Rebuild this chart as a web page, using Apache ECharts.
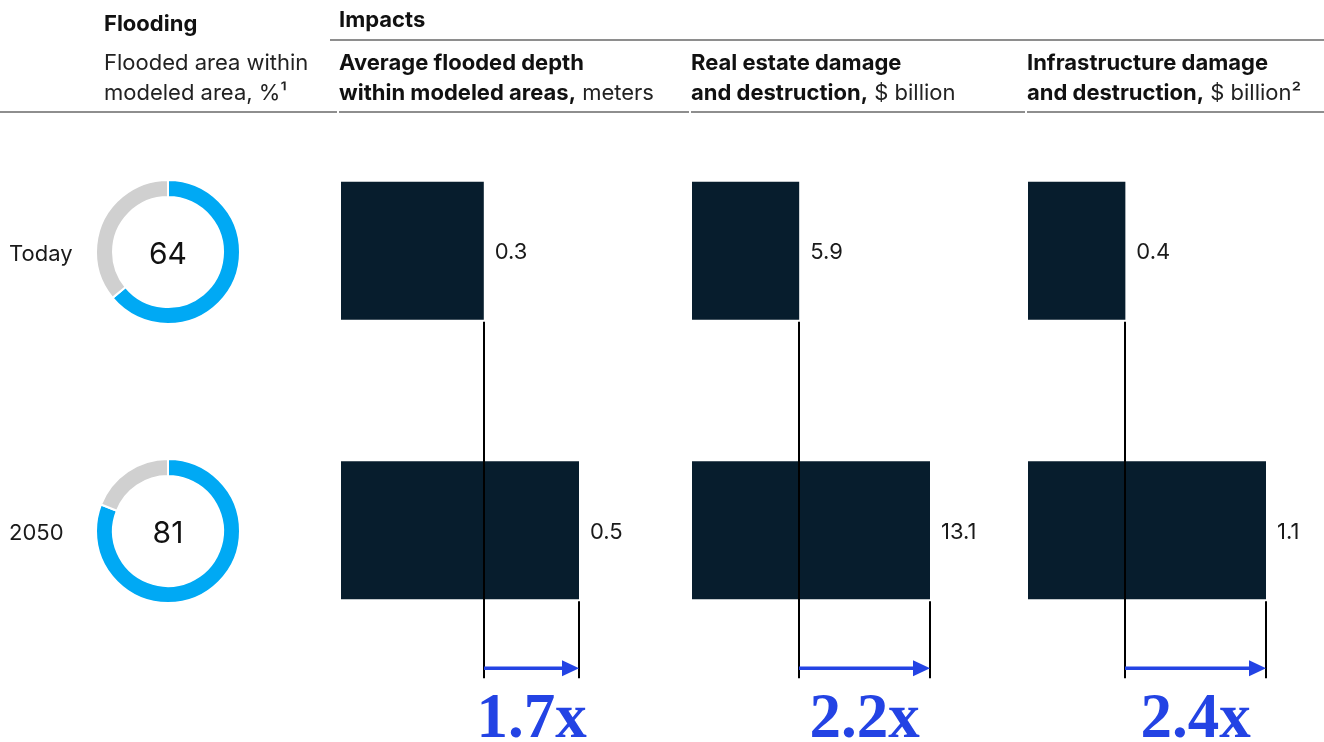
<!DOCTYPE html>
<html><head><meta charset="utf-8">
<script src="https://cdn.jsdelivr.net/npm/echarts@6/dist/echarts.min.js"></script>
<style>html,body{margin:0;padding:0;background:#fff}#c{width:1324px;height:742px}</style>
</head><body><div id="c"></div>
<script>
// ---- data ----
const periods = ['Today', '2050'];
const floodedShare = [64, 81];
const depth = [0.3, 0.5];
const realEstate = [5.9, 13.1];
const infrastructure = [0.45, 1.1];
const depthLabels = ['0.3', '0.5'];
const realEstateLabels = ['5.9', '13.1'];
const infrastructureLabels = ['0.4', '1.1'];
const multipliers = ['1.7x', '2.2x', '2.4x'];

// ---- style ----
const FONT = 'Inter';
const BAR_H = 138;
const NAVY = '#071D2D';
const BLUE = '#00A9F4';
const GREY = '#D0D0D0';
const ARROW = '#2343E4';
const RULE = '#8E8E8E';

const panels = [
  { values: depth, labels: depthLabels, left: 341 },
  { values: realEstate, labels: realEstateLabels, left: 692 },
  { values: infrastructure, labels: infrastructureLabels, left: 1028 }
];

const chart = echarts.init(document.getElementById('c'), null, { renderer: 'canvas' });

const grids = [{ left: 9, width: 10, top: 111, bottom: 72 }];
const xAxes = [{ type: 'value', gridIndex: 0, show: false, min: 0, max: 1 }];
const yAxes = [{
  type: 'category', gridIndex: 0, data: periods, inverse: true,
  axisLine: { show: false }, axisTick: { show: false }, splitLine: { show: false },
  axisLabel: {
    inside: true, margin: 0,
    formatter: (v) => '{a|' + v + '}',
    rich: { a: { fontFamily: FONT, fontSize: 22, color: '#1a1a1a', padding: [7, 0, 0, 0] } }
  }
}];
const series = [];

panels.forEach((p, i) => {
  const gi = i + 1;
  grids.push({ left: p.left, width: 238, top: 111, bottom: 72 });
  xAxes.push({ type: 'value', gridIndex: gi, show: false, min: 0, max: 'dataMax' });
  yAxes.push({ type: 'category', gridIndex: gi, data: periods, inverse: true, show: false });
  series.push({
    type: 'bar', xAxisIndex: gi, yAxisIndex: gi, data: p.values, barWidth: BAR_H,
    itemStyle: { color: NAVY }, silent: true, z: 2,
    label: {
      show: true, position: 'right', distance: 11, offset: [0, 2],
      formatter: (prm) => p.labels[prm.dataIndex],
      fontFamily: FONT, fontSize: 22, color: '#1a1a1a'
    }
  });
  series.push({
    type: 'custom', xAxisIndex: gi, yAxisIndex: gi, clip: false, silent: true, z: 5,
    data: [[p.values[0], p.values[1], 0]],
    encode: { x: [0, 1], y: 2 },
    renderItem: (params, api) => {
      const p0 = api.coord([api.value(0), 0]);
      const p1 = api.coord([api.value(1), 1]);
      const half = BAR_H / 2;
      const x0 = Math.round(p0[0]);
      const x1 = Math.round(p1[0]);
      const arrowY = p1[1] + half + 69;
      const bottom = arrowY + 10;
      return {
        type: 'group',
        children: [
          { type: 'line', shape: { x1: x0, y1: p0[1] + half + 2, x2: x0, y2: bottom }, style: { stroke: '#000', lineWidth: 2 } },
          { type: 'line', shape: { x1: x1, y1: p1[1] + half + 2, x2: x1, y2: bottom }, style: { stroke: '#000', lineWidth: 2 } },
          { type: 'line', shape: { x1: x0, y1: arrowY, x2: x1 - 10, y2: arrowY }, style: { stroke: ARROW, lineWidth: 3.5 } },
          { type: 'polygon', shape: { points: [[x1 - 17, arrowY - 8], [x1, arrowY], [x1 - 17, arrowY + 8]] }, style: { fill: ARROW } },
          { type: 'text', style: {
              text: multipliers[i], x: (x0 + x1) / 2, y: arrowY + 52,
              font: 'bold 63px "Liberation Serif"', fill: ARROW, align: 'center', verticalAlign: 'middle'
          } }
        ]
      };
    }
  });
});

// donuts
const donutCenters = [[168, 252], [168, 531]];
floodedShare.forEach((v, i) => {
  series.push({
    type: 'pie', center: donutCenters[i], radius: [55, 72], startAngle: 90, clockwise: true,
    silent: true, animation: false,
    itemStyle: { borderColor: '#fff', borderWidth: 2 },
    labelLine: { show: false },
    data: [
      { value: v, name: periods[i], itemStyle: { color: BLUE },
        label: { show: true, position: 'center', formatter: '{n|{c}}',
          rich: { n: { fontFamily: FONT, fontSize: 30, color: '#111', padding: [5, 0, 0, 0] } } } },
      { value: 100 - v, name: 'rest', itemStyle: { color: GREY }, label: { show: false } }
    ]
  });
});

const txt = (x, y, text, opts) => ({
  type: 'text', x, y, silent: true,
  style: Object.assign({ text, fontFamily: FONT, fontSize: 22, fill: '#111', verticalAlign: 'middle', align: 'left' }, opts || {})
});
const rich = {
  b: { fontFamily: FONT, fontSize: 22, fontWeight: 'bold', fill: '#111', color: '#111' },
  r: { fontFamily: FONT, fontSize: 22, fill: '#222', color: '#222' }
};
const rule = (x1, y, x2) => ({ type: 'line', silent: true, shape: { x1, y1: y, x2, y2: y }, style: { stroke: RULE, lineWidth: 2 } });

const graphic = [
  txt(104, 24, 'Flooding', { fontWeight: 'bold' }),
  txt(339, 20, 'Impacts', { fontWeight: 'bold' }),
  rule(330, 40, 1324),
  txt(104, 63, 'Flooded area within', { fill: '#222' }),
  txt(104, 93, 'modeled area, %¹', { fill: '#222' }),
  txt(339, 63, 'Average flooded depth', { fontWeight: 'bold' }),
  txt(339, 93, '{b|within modeled areas,} {r|meters}', { rich }),
  txt(691, 63, 'Real estate damage', { fontWeight: 'bold' }),
  txt(691, 93, '{b|and destruction,} {r|$ billion}', { rich }),
  txt(1027, 63, 'Infrastructure damage', { fontWeight: 'bold' }),
  txt(1027, 93, '{b|and destruction,} {r|$ billion²}', { rich }),
  rule(0, 112, 337), rule(339, 112, 689), rule(691, 112, 1025), rule(1027, 112, 1324)
];

chart.setOption({
  animation: false,
  grid: grids, xAxis: xAxes, yAxis: yAxes, series, graphic
});
</script></body></html>
